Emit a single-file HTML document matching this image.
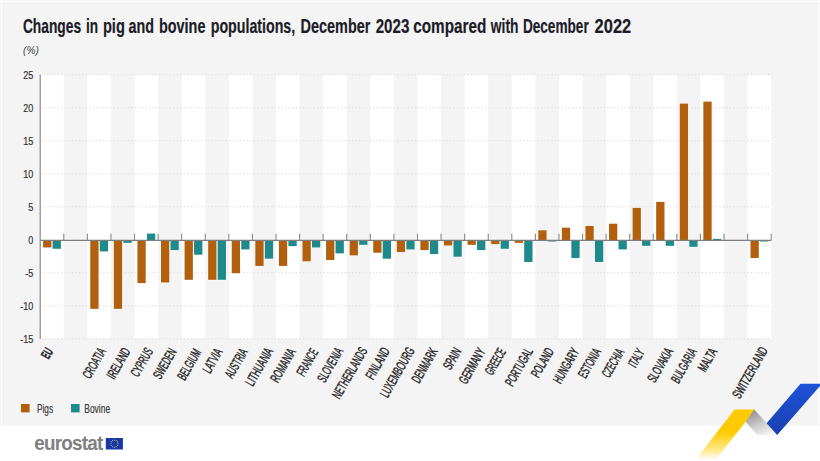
<!DOCTYPE html><html><head><meta charset="utf-8"><style>html,body{margin:0;padding:0;background:#fff;}body{width:820px;height:461px;overflow:hidden;position:relative;}svg{display:block;font-family:"Liberation Sans",sans-serif;}</style></head><body>
<svg width="820" height="461" viewBox="0 0 820 461">
<defs><linearGradient id="gy" gradientUnits="userSpaceOnUse" x1="0" y1="460" x2="0" y2="432"><stop offset="0" stop-color="#ffcc00" stop-opacity="0"/><stop offset="0.35" stop-color="#ffcc00" stop-opacity="0.45"/><stop offset="1" stop-color="#ffcb00"/></linearGradient><linearGradient id="gg" x1="0.2" y1="0" x2="0.7" y2="1"><stop offset="0" stop-color="#8c8c8c"/><stop offset="0.6" stop-color="#cfcfcf"/><stop offset="1" stop-color="#f4f4f4"/></linearGradient><linearGradient id="gb" x1="0" y1="0" x2="0" y2="1"><stop offset="0" stop-color="#1e52d6"/><stop offset="1" stop-color="#1a40b0"/></linearGradient></defs>
<rect x="0" y="0" width="820" height="425.8" fill="#f4f4f4"/>
<rect x="1" y="0" width="1.2" height="425.8" fill="#fbfbfb"/>
<rect x="817.8" y="0" width="1.4" height="425.8" fill="#fbfbfb"/>
<rect x="0" y="1" width="820" height="1" fill="#fcfcfc"/>
<text x="22.90" y="32.7" font-size="20.5" font-weight="bold" fill="#1c1c28" stroke="#1c1c28" stroke-width="0.2" textLength="58.14" lengthAdjust="spacingAndGlyphs">Changes</text>
<text x="85.90" y="32.7" font-size="20.5" font-weight="bold" fill="#1c1c28" stroke="#1c1c28" stroke-width="0.2" textLength="12.08" lengthAdjust="spacingAndGlyphs">in</text>
<text x="102.90" y="32.7" font-size="20.5" font-weight="bold" fill="#1c1c28" stroke="#1c1c28" stroke-width="0.2" textLength="21.99" lengthAdjust="spacingAndGlyphs">pig</text>
<text x="128.50" y="32.7" font-size="20.5" font-weight="bold" fill="#1c1c28" stroke="#1c1c28" stroke-width="0.2" textLength="25.47" lengthAdjust="spacingAndGlyphs">and</text>
<text x="159.00" y="32.7" font-size="20.5" font-weight="bold" fill="#1c1c28" stroke="#1c1c28" stroke-width="0.2" textLength="46.43" lengthAdjust="spacingAndGlyphs">bovine</text>
<text x="210.70" y="32.7" font-size="20.5" font-weight="bold" fill="#1c1c28" stroke="#1c1c28" stroke-width="0.2" textLength="84.55" lengthAdjust="spacingAndGlyphs">populations,</text>
<text x="300.60" y="32.7" font-size="20.5" font-weight="bold" fill="#1c1c28" stroke="#1c1c28" stroke-width="0.2" textLength="69.74" lengthAdjust="spacingAndGlyphs">December</text>
<text x="375.70" y="32.7" font-size="20.5" font-weight="bold" fill="#1c1c28" stroke="#1c1c28" stroke-width="0.2" textLength="33.67" lengthAdjust="spacingAndGlyphs">2023</text>
<text x="413.20" y="32.7" font-size="20.5" font-weight="bold" fill="#1c1c28" stroke="#1c1c28" stroke-width="0.2" textLength="73.09" lengthAdjust="spacingAndGlyphs">compared</text>
<text x="490.84" y="32.7" font-size="20.5" font-weight="bold" fill="#1c1c28" stroke="#1c1c28" stroke-width="0.2" textLength="27.65" lengthAdjust="spacingAndGlyphs">with</text>
<text x="522.90" y="32.7" font-size="20.5" font-weight="bold" fill="#1c1c28" stroke="#1c1c28" stroke-width="0.2" textLength="65.84" lengthAdjust="spacingAndGlyphs">December</text>
<text x="594.60" y="32.7" font-size="20.5" font-weight="bold" fill="#1c1c28" stroke="#1c1c28" stroke-width="0.2" textLength="36.67" lengthAdjust="spacingAndGlyphs">2022</text>
<text x="23" y="53.6" font-size="11.5" font-style="italic" fill="#404040" textLength="15.8" lengthAdjust="spacingAndGlyphs">(%)</text>
<rect x="40.20" y="74.80" width="23.58" height="264.00" fill="#ffffff"/>
<rect x="87.36" y="74.80" width="23.58" height="264.00" fill="#ffffff"/>
<rect x="134.52" y="74.80" width="23.58" height="264.00" fill="#ffffff"/>
<rect x="181.68" y="74.80" width="23.58" height="264.00" fill="#ffffff"/>
<rect x="228.84" y="74.80" width="23.58" height="264.00" fill="#ffffff"/>
<rect x="276.00" y="74.80" width="23.58" height="264.00" fill="#ffffff"/>
<rect x="323.16" y="74.80" width="23.58" height="264.00" fill="#ffffff"/>
<rect x="370.32" y="74.80" width="23.58" height="264.00" fill="#ffffff"/>
<rect x="417.48" y="74.80" width="23.58" height="264.00" fill="#ffffff"/>
<rect x="464.64" y="74.80" width="23.58" height="264.00" fill="#ffffff"/>
<rect x="511.80" y="74.80" width="23.58" height="264.00" fill="#ffffff"/>
<rect x="558.96" y="74.80" width="23.58" height="264.00" fill="#ffffff"/>
<rect x="606.12" y="74.80" width="23.58" height="264.00" fill="#ffffff"/>
<rect x="653.28" y="74.80" width="23.58" height="264.00" fill="#ffffff"/>
<rect x="700.44" y="74.80" width="23.58" height="264.00" fill="#ffffff"/>
<rect x="747.60" y="74.80" width="23.58" height="264.00" fill="#ffffff"/>
<line x1="40.2" y1="74.80" x2="771.18" y2="74.80" stroke="#dcdcdc" stroke-width="1" stroke-dasharray="1.5,2"/>
<text x="33.3" y="78.90" font-size="11.3" fill="#333" stroke="#333" stroke-width="0.2" text-anchor="end" transform="translate(33.3,0) scale(0.8,1) translate(-33.3,0)">25</text>
<line x1="40.2" y1="107.80" x2="771.18" y2="107.80" stroke="#dcdcdc" stroke-width="1" stroke-dasharray="1.5,2"/>
<text x="33.3" y="111.90" font-size="11.3" fill="#333" stroke="#333" stroke-width="0.2" text-anchor="end" transform="translate(33.3,0) scale(0.8,1) translate(-33.3,0)">20</text>
<line x1="40.2" y1="140.80" x2="771.18" y2="140.80" stroke="#dcdcdc" stroke-width="1" stroke-dasharray="1.5,2"/>
<text x="33.3" y="144.90" font-size="11.3" fill="#333" stroke="#333" stroke-width="0.2" text-anchor="end" transform="translate(33.3,0) scale(0.8,1) translate(-33.3,0)">15</text>
<line x1="40.2" y1="173.80" x2="771.18" y2="173.80" stroke="#dcdcdc" stroke-width="1" stroke-dasharray="1.5,2"/>
<text x="33.3" y="177.90" font-size="11.3" fill="#333" stroke="#333" stroke-width="0.2" text-anchor="end" transform="translate(33.3,0) scale(0.8,1) translate(-33.3,0)">10</text>
<line x1="40.2" y1="206.80" x2="771.18" y2="206.80" stroke="#dcdcdc" stroke-width="1" stroke-dasharray="1.5,2"/>
<text x="33.3" y="210.90" font-size="11.3" fill="#333" stroke="#333" stroke-width="0.2" text-anchor="end" transform="translate(33.3,0) scale(0.8,1) translate(-33.3,0)">5</text>
<line x1="40.2" y1="272.80" x2="771.18" y2="272.80" stroke="#dcdcdc" stroke-width="1" stroke-dasharray="1.5,2"/>
<text x="33.3" y="276.90" font-size="11.3" fill="#333" stroke="#333" stroke-width="0.2" text-anchor="end" transform="translate(33.3,0) scale(0.8,1) translate(-33.3,0)">-5</text>
<line x1="40.2" y1="305.80" x2="771.18" y2="305.80" stroke="#dcdcdc" stroke-width="1" stroke-dasharray="1.5,2"/>
<text x="33.3" y="309.90" font-size="11.3" fill="#333" stroke="#333" stroke-width="0.2" text-anchor="end" transform="translate(33.3,0) scale(0.8,1) translate(-33.3,0)">-10</text>
<line x1="40.2" y1="338.80" x2="771.18" y2="338.80" stroke="#dcdcdc" stroke-width="1" stroke-dasharray="1.5,2"/>
<text x="33.3" y="342.90" font-size="11.3" fill="#333" stroke="#333" stroke-width="0.2" text-anchor="end" transform="translate(33.3,0) scale(0.8,1) translate(-33.3,0)">-15</text>
<text x="33.3" y="244.20" font-size="11.3" fill="#333" stroke="#333" stroke-width="0.2" text-anchor="end" transform="translate(33.3,0) scale(0.8,1) translate(-33.3,0)">0</text>
<rect x="42.50" y="240.20" width="9.5" height="7.86" fill="#fff" fill-opacity="0.8"/>
<rect x="43.10" y="240.20" width="8.3" height="7.26" fill="#b2600e"/>
<rect x="52.00" y="240.20" width="9.5" height="9.18" fill="#fff" fill-opacity="0.8"/>
<rect x="52.60" y="240.20" width="8.3" height="8.58" fill="#1f8a8c"/>
<rect x="89.66" y="240.20" width="9.5" height="69.24" fill="#fff" fill-opacity="0.8"/>
<rect x="90.26" y="240.20" width="8.3" height="68.64" fill="#b2600e"/>
<rect x="99.16" y="240.20" width="9.5" height="11.82" fill="#fff" fill-opacity="0.8"/>
<rect x="99.76" y="240.20" width="8.3" height="11.22" fill="#1f8a8c"/>
<rect x="113.24" y="240.20" width="9.5" height="69.24" fill="#fff" fill-opacity="0.8"/>
<rect x="113.84" y="240.20" width="8.3" height="68.64" fill="#b2600e"/>
<rect x="122.74" y="240.20" width="9.5" height="3.24" fill="#fff" fill-opacity="0.8"/>
<rect x="123.34" y="240.20" width="8.3" height="2.64" fill="#1f8a8c"/>
<rect x="136.82" y="240.20" width="9.5" height="43.50" fill="#fff" fill-opacity="0.8"/>
<rect x="137.42" y="240.20" width="8.3" height="42.90" fill="#b2600e"/>
<rect x="146.32" y="233.00" width="9.5" height="7.20" fill="#fff" fill-opacity="0.8"/>
<rect x="146.92" y="233.60" width="8.3" height="6.60" fill="#1f8a8c"/>
<rect x="160.40" y="240.20" width="9.5" height="42.84" fill="#fff" fill-opacity="0.8"/>
<rect x="161.00" y="240.20" width="8.3" height="42.24" fill="#b2600e"/>
<rect x="169.90" y="240.20" width="9.5" height="10.50" fill="#fff" fill-opacity="0.8"/>
<rect x="170.50" y="240.20" width="8.3" height="9.90" fill="#1f8a8c"/>
<rect x="183.98" y="240.20" width="9.5" height="40.20" fill="#fff" fill-opacity="0.8"/>
<rect x="184.58" y="240.20" width="8.3" height="39.60" fill="#b2600e"/>
<rect x="193.48" y="240.20" width="9.5" height="15.12" fill="#fff" fill-opacity="0.8"/>
<rect x="194.08" y="240.20" width="8.3" height="14.52" fill="#1f8a8c"/>
<rect x="207.56" y="240.20" width="9.5" height="40.20" fill="#fff" fill-opacity="0.8"/>
<rect x="208.16" y="240.20" width="8.3" height="39.60" fill="#b2600e"/>
<rect x="217.06" y="240.20" width="9.5" height="40.20" fill="#fff" fill-opacity="0.8"/>
<rect x="217.66" y="240.20" width="8.3" height="39.60" fill="#1f8a8c"/>
<rect x="231.14" y="240.20" width="9.5" height="33.60" fill="#fff" fill-opacity="0.8"/>
<rect x="231.74" y="240.20" width="8.3" height="33.00" fill="#b2600e"/>
<rect x="240.64" y="240.20" width="9.5" height="9.84" fill="#fff" fill-opacity="0.8"/>
<rect x="241.24" y="240.20" width="8.3" height="9.24" fill="#1f8a8c"/>
<rect x="254.72" y="240.20" width="9.5" height="26.34" fill="#fff" fill-opacity="0.8"/>
<rect x="255.32" y="240.20" width="8.3" height="25.74" fill="#b2600e"/>
<rect x="264.22" y="240.20" width="9.5" height="19.08" fill="#fff" fill-opacity="0.8"/>
<rect x="264.82" y="240.20" width="8.3" height="18.48" fill="#1f8a8c"/>
<rect x="278.30" y="240.20" width="9.5" height="26.34" fill="#fff" fill-opacity="0.8"/>
<rect x="278.90" y="240.20" width="8.3" height="25.74" fill="#b2600e"/>
<rect x="287.80" y="240.20" width="9.5" height="6.54" fill="#fff" fill-opacity="0.8"/>
<rect x="288.40" y="240.20" width="8.3" height="5.94" fill="#1f8a8c"/>
<rect x="301.88" y="240.20" width="9.5" height="21.72" fill="#fff" fill-opacity="0.8"/>
<rect x="302.48" y="240.20" width="8.3" height="21.12" fill="#b2600e"/>
<rect x="311.38" y="240.20" width="9.5" height="7.86" fill="#fff" fill-opacity="0.8"/>
<rect x="311.98" y="240.20" width="8.3" height="7.26" fill="#1f8a8c"/>
<rect x="325.46" y="240.20" width="9.5" height="20.40" fill="#fff" fill-opacity="0.8"/>
<rect x="326.06" y="240.20" width="8.3" height="19.80" fill="#b2600e"/>
<rect x="334.96" y="240.20" width="9.5" height="13.80" fill="#fff" fill-opacity="0.8"/>
<rect x="335.56" y="240.20" width="8.3" height="13.20" fill="#1f8a8c"/>
<rect x="349.04" y="240.20" width="9.5" height="15.78" fill="#fff" fill-opacity="0.8"/>
<rect x="349.64" y="240.20" width="8.3" height="15.18" fill="#b2600e"/>
<rect x="358.54" y="240.20" width="9.5" height="5.22" fill="#fff" fill-opacity="0.8"/>
<rect x="359.14" y="240.20" width="8.3" height="4.62" fill="#1f8a8c"/>
<rect x="372.62" y="240.20" width="9.5" height="13.14" fill="#fff" fill-opacity="0.8"/>
<rect x="373.22" y="240.20" width="8.3" height="12.54" fill="#b2600e"/>
<rect x="382.12" y="240.20" width="9.5" height="19.08" fill="#fff" fill-opacity="0.8"/>
<rect x="382.72" y="240.20" width="8.3" height="18.48" fill="#1f8a8c"/>
<rect x="396.20" y="240.20" width="9.5" height="12.48" fill="#fff" fill-opacity="0.8"/>
<rect x="396.80" y="240.20" width="8.3" height="11.88" fill="#b2600e"/>
<rect x="405.70" y="240.20" width="9.5" height="9.84" fill="#fff" fill-opacity="0.8"/>
<rect x="406.30" y="240.20" width="8.3" height="9.24" fill="#1f8a8c"/>
<rect x="419.78" y="240.20" width="9.5" height="10.50" fill="#fff" fill-opacity="0.8"/>
<rect x="420.38" y="240.20" width="8.3" height="9.90" fill="#b2600e"/>
<rect x="429.28" y="240.20" width="9.5" height="14.46" fill="#fff" fill-opacity="0.8"/>
<rect x="429.88" y="240.20" width="8.3" height="13.86" fill="#1f8a8c"/>
<rect x="443.36" y="240.20" width="9.5" height="5.88" fill="#fff" fill-opacity="0.8"/>
<rect x="443.96" y="240.20" width="8.3" height="5.28" fill="#b2600e"/>
<rect x="452.86" y="240.20" width="9.5" height="17.10" fill="#fff" fill-opacity="0.8"/>
<rect x="453.46" y="240.20" width="8.3" height="16.50" fill="#1f8a8c"/>
<rect x="466.94" y="240.20" width="9.5" height="5.22" fill="#fff" fill-opacity="0.8"/>
<rect x="467.54" y="240.20" width="8.3" height="4.62" fill="#b2600e"/>
<rect x="476.44" y="240.20" width="9.5" height="10.50" fill="#fff" fill-opacity="0.8"/>
<rect x="477.04" y="240.20" width="8.3" height="9.90" fill="#1f8a8c"/>
<rect x="490.52" y="240.20" width="9.5" height="4.56" fill="#fff" fill-opacity="0.8"/>
<rect x="491.12" y="240.20" width="8.3" height="3.96" fill="#b2600e"/>
<rect x="500.02" y="240.20" width="9.5" height="9.18" fill="#fff" fill-opacity="0.8"/>
<rect x="500.62" y="240.20" width="8.3" height="8.58" fill="#1f8a8c"/>
<rect x="514.10" y="240.20" width="9.5" height="3.24" fill="#fff" fill-opacity="0.8"/>
<rect x="514.70" y="240.20" width="8.3" height="2.64" fill="#b2600e"/>
<rect x="523.60" y="240.20" width="9.5" height="22.38" fill="#fff" fill-opacity="0.8"/>
<rect x="524.20" y="240.20" width="8.3" height="21.78" fill="#1f8a8c"/>
<rect x="537.68" y="229.70" width="9.5" height="10.50" fill="#fff" fill-opacity="0.8"/>
<rect x="538.28" y="230.30" width="8.3" height="9.90" fill="#b2600e"/>
<rect x="547.18" y="240.20" width="9.5" height="1.92" fill="#fff" fill-opacity="0.8"/>
<rect x="547.78" y="240.20" width="8.3" height="1.32" fill="#1f8a8c"/>
<rect x="561.26" y="227.06" width="9.5" height="13.14" fill="#fff" fill-opacity="0.8"/>
<rect x="561.86" y="227.66" width="8.3" height="12.54" fill="#b2600e"/>
<rect x="570.76" y="240.20" width="9.5" height="18.42" fill="#fff" fill-opacity="0.8"/>
<rect x="571.36" y="240.20" width="8.3" height="17.82" fill="#1f8a8c"/>
<rect x="584.84" y="225.41" width="9.5" height="14.79" fill="#fff" fill-opacity="0.8"/>
<rect x="585.44" y="226.01" width="8.3" height="14.19" fill="#b2600e"/>
<rect x="594.34" y="240.20" width="9.5" height="22.38" fill="#fff" fill-opacity="0.8"/>
<rect x="594.94" y="240.20" width="8.3" height="21.78" fill="#1f8a8c"/>
<rect x="608.42" y="223.10" width="9.5" height="17.10" fill="#fff" fill-opacity="0.8"/>
<rect x="609.02" y="223.70" width="8.3" height="16.50" fill="#b2600e"/>
<rect x="617.92" y="240.20" width="9.5" height="9.84" fill="#fff" fill-opacity="0.8"/>
<rect x="618.52" y="240.20" width="8.3" height="9.24" fill="#1f8a8c"/>
<rect x="632.00" y="207.26" width="9.5" height="32.94" fill="#fff" fill-opacity="0.8"/>
<rect x="632.60" y="207.86" width="8.3" height="32.34" fill="#b2600e"/>
<rect x="641.50" y="240.20" width="9.5" height="6.21" fill="#fff" fill-opacity="0.8"/>
<rect x="642.10" y="240.20" width="8.3" height="5.61" fill="#1f8a8c"/>
<rect x="655.58" y="201.32" width="9.5" height="38.88" fill="#fff" fill-opacity="0.8"/>
<rect x="656.18" y="201.92" width="8.3" height="38.28" fill="#b2600e"/>
<rect x="665.08" y="240.20" width="9.5" height="6.21" fill="#fff" fill-opacity="0.8"/>
<rect x="665.68" y="240.20" width="8.3" height="5.61" fill="#1f8a8c"/>
<rect x="679.16" y="102.98" width="9.5" height="137.22" fill="#fff" fill-opacity="0.8"/>
<rect x="679.76" y="103.58" width="8.3" height="136.62" fill="#b2600e"/>
<rect x="688.66" y="240.20" width="9.5" height="7.20" fill="#fff" fill-opacity="0.8"/>
<rect x="689.26" y="240.20" width="8.3" height="6.60" fill="#1f8a8c"/>
<rect x="702.74" y="101.00" width="9.5" height="139.20" fill="#fff" fill-opacity="0.8"/>
<rect x="703.34" y="101.60" width="8.3" height="138.60" fill="#b2600e"/>
<rect x="712.24" y="238.28" width="9.5" height="1.92" fill="#fff" fill-opacity="0.8"/>
<rect x="712.84" y="238.88" width="8.3" height="1.32" fill="#1f8a8c"/>
<rect x="749.90" y="240.20" width="9.5" height="18.42" fill="#fff" fill-opacity="0.8"/>
<rect x="750.50" y="240.20" width="8.3" height="17.82" fill="#b2600e"/>
<rect x="759.40" y="240.20" width="9.5" height="1.92" fill="#fff" fill-opacity="0.8"/>
<rect x="760.00" y="240.20" width="8.3" height="1.32" fill="#1f8a8c"/>
<line x1="40.2" y1="240.40" x2="771.18" y2="240.40" stroke="#7d7d7d" stroke-width="1.2"/>
<line x1="63.78" y1="233.70" x2="63.78" y2="240.40" stroke="#888" stroke-width="1.1"/>
<line x1="87.36" y1="233.70" x2="87.36" y2="240.40" stroke="#888" stroke-width="1.1"/>
<line x1="110.94" y1="233.70" x2="110.94" y2="240.40" stroke="#888" stroke-width="1.1"/>
<line x1="134.52" y1="233.70" x2="134.52" y2="240.40" stroke="#888" stroke-width="1.1"/>
<line x1="158.10" y1="233.70" x2="158.10" y2="240.40" stroke="#888" stroke-width="1.1"/>
<line x1="181.68" y1="233.70" x2="181.68" y2="240.40" stroke="#888" stroke-width="1.1"/>
<line x1="205.26" y1="233.70" x2="205.26" y2="240.40" stroke="#888" stroke-width="1.1"/>
<line x1="228.84" y1="233.70" x2="228.84" y2="240.40" stroke="#888" stroke-width="1.1"/>
<line x1="252.42" y1="233.70" x2="252.42" y2="240.40" stroke="#888" stroke-width="1.1"/>
<line x1="276.00" y1="233.70" x2="276.00" y2="240.40" stroke="#888" stroke-width="1.1"/>
<line x1="299.58" y1="233.70" x2="299.58" y2="240.40" stroke="#888" stroke-width="1.1"/>
<line x1="323.16" y1="233.70" x2="323.16" y2="240.40" stroke="#888" stroke-width="1.1"/>
<line x1="346.74" y1="233.70" x2="346.74" y2="240.40" stroke="#888" stroke-width="1.1"/>
<line x1="370.32" y1="233.70" x2="370.32" y2="240.40" stroke="#888" stroke-width="1.1"/>
<line x1="393.90" y1="233.70" x2="393.90" y2="240.40" stroke="#888" stroke-width="1.1"/>
<line x1="417.48" y1="233.70" x2="417.48" y2="240.40" stroke="#888" stroke-width="1.1"/>
<line x1="441.06" y1="233.70" x2="441.06" y2="240.40" stroke="#888" stroke-width="1.1"/>
<line x1="464.64" y1="233.70" x2="464.64" y2="240.40" stroke="#888" stroke-width="1.1"/>
<line x1="488.22" y1="233.70" x2="488.22" y2="240.40" stroke="#888" stroke-width="1.1"/>
<line x1="511.80" y1="233.70" x2="511.80" y2="240.40" stroke="#888" stroke-width="1.1"/>
<line x1="535.38" y1="233.70" x2="535.38" y2="240.40" stroke="#888" stroke-width="1.1"/>
<line x1="558.96" y1="233.70" x2="558.96" y2="240.40" stroke="#888" stroke-width="1.1"/>
<line x1="582.54" y1="233.70" x2="582.54" y2="240.40" stroke="#888" stroke-width="1.1"/>
<line x1="606.12" y1="233.70" x2="606.12" y2="240.40" stroke="#888" stroke-width="1.1"/>
<line x1="629.70" y1="233.70" x2="629.70" y2="240.40" stroke="#888" stroke-width="1.1"/>
<line x1="653.28" y1="233.70" x2="653.28" y2="240.40" stroke="#888" stroke-width="1.1"/>
<line x1="676.86" y1="233.70" x2="676.86" y2="240.40" stroke="#888" stroke-width="1.1"/>
<line x1="700.44" y1="233.70" x2="700.44" y2="240.40" stroke="#888" stroke-width="1.1"/>
<line x1="724.02" y1="233.70" x2="724.02" y2="240.40" stroke="#888" stroke-width="1.1"/>
<line x1="747.60" y1="233.70" x2="747.60" y2="240.40" stroke="#888" stroke-width="1.1"/>
<line x1="771.18" y1="233.70" x2="771.18" y2="240.40" stroke="#888" stroke-width="1.1"/>
<line x1="40.2" y1="74.80" x2="40.2" y2="338.80" stroke="#8a8a8a" stroke-width="1.2"/>
<text x="0" y="0" font-size="13.5" fill="#262626" stroke="#262626" stroke-width="0.45" font-weight="bold" text-anchor="end" textLength="9.72" lengthAdjust="spacingAndGlyphs" transform="translate(53.44,351.45) rotate(-60)">EU</text>
<text x="0" y="0" font-size="13.5" fill="#262626" stroke="#262626" stroke-width="0.45" text-anchor="end" textLength="32.61" lengthAdjust="spacingAndGlyphs" transform="translate(106.35,351.30) rotate(-60)">CROATIA</text>
<text x="0" y="0" font-size="13.5" fill="#262626" stroke="#262626" stroke-width="0.45" text-anchor="end" textLength="33.31" lengthAdjust="spacingAndGlyphs" transform="translate(130.73,351.20) rotate(-60)">IRELAND</text>
<text x="0" y="0" font-size="13.5" fill="#262626" stroke="#262626" stroke-width="0.45" text-anchor="end" textLength="30.73" lengthAdjust="spacingAndGlyphs" transform="translate(153.41,351.20) rotate(-60)">CYPRUS</text>
<text x="0" y="0" font-size="13.5" fill="#262626" stroke="#262626" stroke-width="0.45" text-anchor="end" textLength="32.82" lengthAdjust="spacingAndGlyphs" transform="translate(176.85,351.70) rotate(-60)">SWEDEN</text>
<text x="0" y="0" font-size="13.5" fill="#262626" stroke="#262626" stroke-width="0.45" text-anchor="end" textLength="33.72" lengthAdjust="spacingAndGlyphs" transform="translate(201.54,352.14) rotate(-60)">BELGIUM</text>
<text x="0" y="0" font-size="13.5" fill="#262626" stroke="#262626" stroke-width="0.45" text-anchor="end" textLength="26.01" lengthAdjust="spacingAndGlyphs" transform="translate(222.91,351.67) rotate(-60)">LATVIA</text>
<text x="0" y="0" font-size="13.5" fill="#262626" stroke="#262626" stroke-width="0.45" text-anchor="end" textLength="31.78" lengthAdjust="spacingAndGlyphs" transform="translate(248.06,351.79) rotate(-60)">AUSTRIA</text>
<text x="0" y="0" font-size="13.5" fill="#262626" stroke="#262626" stroke-width="0.45" text-anchor="end" textLength="41.62" lengthAdjust="spacingAndGlyphs" transform="translate(273.53,351.06) rotate(-60)">LITHUANIA</text>
<text x="0" y="0" font-size="13.5" fill="#262626" stroke="#262626" stroke-width="0.45" text-anchor="end" textLength="36.82" lengthAdjust="spacingAndGlyphs" transform="translate(296.18,351.60) rotate(-60)">ROMANIA</text>
<text x="0" y="0" font-size="13.5" fill="#262626" stroke="#262626" stroke-width="0.45" text-anchor="end" textLength="29.35" lengthAdjust="spacingAndGlyphs" transform="translate(318.55,351.94) rotate(-60)">FRANCE</text>
<text x="0" y="0" font-size="13.5" fill="#262626" stroke="#262626" stroke-width="0.45" text-anchor="end" textLength="37.41" lengthAdjust="spacingAndGlyphs" transform="translate(343.45,351.04) rotate(-60)">SLOVENIA</text>
<text x="0" y="0" font-size="13.5" fill="#262626" stroke="#262626" stroke-width="0.45" text-anchor="end" textLength="56.58" lengthAdjust="spacingAndGlyphs" transform="translate(367.81,350.70) rotate(-60)">NETHERLANDS</text>
<text x="0" y="0" font-size="13.5" fill="#262626" stroke="#262626" stroke-width="0.45" text-anchor="end" textLength="34.47" lengthAdjust="spacingAndGlyphs" transform="translate(390.24,350.70) rotate(-60)">FINLAND</text>
<text x="0" y="0" font-size="13.5" fill="#262626" stroke="#262626" stroke-width="0.45" text-anchor="end" textLength="55.30" lengthAdjust="spacingAndGlyphs" transform="translate(415.05,350.52) rotate(-60)">LUXEMBOURG</text>
<text x="0" y="0" font-size="13.5" fill="#262626" stroke="#262626" stroke-width="0.45" text-anchor="end" textLength="38.03" lengthAdjust="spacingAndGlyphs" transform="translate(438.00,351.17) rotate(-60)">DENMARK</text>
<text x="0" y="0" font-size="13.5" fill="#262626" stroke="#262626" stroke-width="0.45" text-anchor="end" textLength="22.86" lengthAdjust="spacingAndGlyphs" transform="translate(461.91,351.00) rotate(-60)">SPAIN</text>
<text x="0" y="0" font-size="13.5" fill="#262626" stroke="#262626" stroke-width="0.45" text-anchor="end" textLength="38.77" lengthAdjust="spacingAndGlyphs" transform="translate(485.69,351.42) rotate(-60)">GERMANY</text>
<text x="0" y="0" font-size="13.5" fill="#262626" stroke="#262626" stroke-width="0.45" text-anchor="end" textLength="28.18" lengthAdjust="spacingAndGlyphs" transform="translate(506.29,351.53) rotate(-60)">GREECE</text>
<text x="0" y="0" font-size="13.5" fill="#262626" stroke="#262626" stroke-width="0.45" text-anchor="end" textLength="41.49" lengthAdjust="spacingAndGlyphs" transform="translate(533.33,351.20) rotate(-60)">PORTUGAL</text>
<text x="0" y="0" font-size="13.5" fill="#262626" stroke="#262626" stroke-width="0.45" text-anchor="end" textLength="31.52" lengthAdjust="spacingAndGlyphs" transform="translate(554.31,351.12) rotate(-60)">POLAND</text>
<text x="0" y="0" font-size="13.5" fill="#262626" stroke="#262626" stroke-width="0.45" text-anchor="end" textLength="38.25" lengthAdjust="spacingAndGlyphs" transform="translate(579.55,351.38) rotate(-60)">HUNGARY</text>
<text x="0" y="0" font-size="13.5" fill="#262626" stroke="#262626" stroke-width="0.45" text-anchor="end" textLength="31.82" lengthAdjust="spacingAndGlyphs" transform="translate(601.33,351.66) rotate(-60)">ESTONIA</text>
<text x="0" y="0" font-size="13.5" fill="#262626" stroke="#262626" stroke-width="0.45" text-anchor="end" textLength="30.79" lengthAdjust="spacingAndGlyphs" transform="translate(624.59,351.89) rotate(-60)">CZECHIA</text>
<text x="0" y="0" font-size="13.5" fill="#262626" stroke="#262626" stroke-width="0.45" text-anchor="end" textLength="19.03" lengthAdjust="spacingAndGlyphs" transform="translate(644.98,351.96) rotate(-60)">ITALY</text>
<text x="0" y="0" font-size="13.5" fill="#262626" stroke="#262626" stroke-width="0.45" text-anchor="end" textLength="37.37" lengthAdjust="spacingAndGlyphs" transform="translate(673.44,351.24) rotate(-60)">SLOVAKIA</text>
<text x="0" y="0" font-size="13.5" fill="#262626" stroke="#262626" stroke-width="0.45" text-anchor="end" textLength="37.71" lengthAdjust="spacingAndGlyphs" transform="translate(697.26,351.48) rotate(-60)">BULGARIA</text>
<text x="0" y="0" font-size="13.5" fill="#262626" stroke="#262626" stroke-width="0.45" text-anchor="end" textLength="24.37" lengthAdjust="spacingAndGlyphs" transform="translate(717.49,351.58) rotate(-60)">MALTA</text>
<text x="0" y="0" font-size="13.5" fill="#262626" stroke="#262626" stroke-width="0.45" text-anchor="end" textLength="56.95" lengthAdjust="spacingAndGlyphs" transform="translate(768.24,350.18) rotate(-60)">SWITZERLAND</text>
<rect x="21" y="404" width="8.6" height="8.4" fill="#b2600e"/>
<text x="37" y="412.6" font-size="12" fill="#3a3a3a" stroke="#3a3a3a" stroke-width="0.2" textLength="16" lengthAdjust="spacingAndGlyphs">Pigs</text>
<rect x="71" y="404" width="8.6" height="8.4" fill="#1f8a8c"/>
<text x="84.3" y="412.6" font-size="12" fill="#3a3a3a" stroke="#3a3a3a" stroke-width="0.2" textLength="25.8" lengthAdjust="spacingAndGlyphs">Bovine</text>
<text x="0" y="0" font-size="20.5" font-weight="bold" fill="#808080" textLength="75.0" lengthAdjust="spacing" transform="translate(34.2,449.8) scale(0.92,1)">eurostat</text>
<rect x="105.8" y="438" width="17.1" height="11.5" fill="#1738a6"/>
<circle cx="118.00" cy="443.70" r="0.55" fill="#d8c860"/>
<circle cx="117.52" cy="445.50" r="0.55" fill="#d8c860"/>
<circle cx="116.20" cy="446.82" r="0.55" fill="#d8c860"/>
<circle cx="114.40" cy="447.30" r="0.55" fill="#d8c860"/>
<circle cx="112.60" cy="446.82" r="0.55" fill="#d8c860"/>
<circle cx="111.28" cy="445.50" r="0.55" fill="#d8c860"/>
<circle cx="110.80" cy="443.70" r="0.55" fill="#d8c860"/>
<circle cx="111.28" cy="441.90" r="0.55" fill="#d8c860"/>
<circle cx="112.60" cy="440.58" r="0.55" fill="#d8c860"/>
<circle cx="114.40" cy="440.10" r="0.55" fill="#d8c860"/>
<circle cx="116.20" cy="440.58" r="0.55" fill="#d8c860"/>
<circle cx="117.52" cy="441.90" r="0.55" fill="#d8c860"/>
<polygon points="734.5,409.5 755.3,409.5 714.6,461 694.6,461" fill="url(#gy)"/>
<polygon points="754.2,409.5 745.6,421.8 757.5,435 777.2,435" fill="url(#gg)"/>
<polygon points="766.6,423.3 800.5,383.8 822,383.8 777.2,435" fill="url(#gb)"/>
</svg></body></html>
